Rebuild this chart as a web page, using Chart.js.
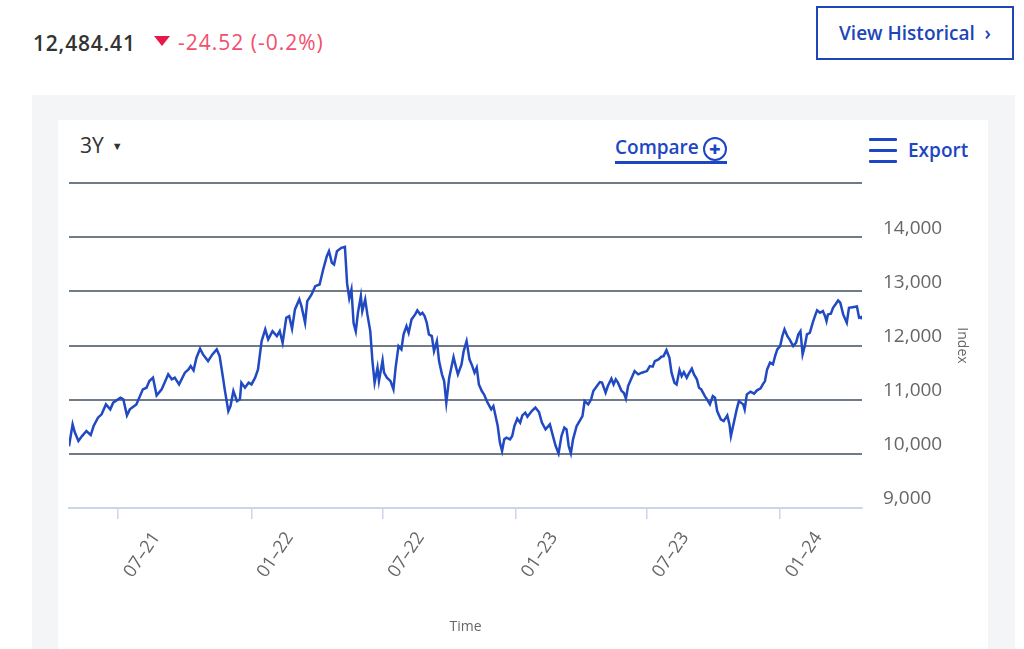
<!DOCTYPE html>
<html>
<head>
<meta charset="utf-8">
<script src="https://cdn.jsdelivr.net/npm/chart.js@4.4.1/dist/chart.umd.min.js"></script>
<style>
  html, body { margin: 0; padding: 0; background: #fff; }
  body { width: 1024px; height: 649px; position: relative; overflow: hidden; font-family: "Open Sans", sans-serif; }
  .abs { position: absolute; white-space: nowrap; }
  #last { left: 33px; top: 29px; font-size: 21px; font-weight: 600; letter-spacing: 0.8px; color: #333; }
  #tri { left: 154px; top: 36px; width: 0; height: 0; border-left: 8px solid transparent; border-right: 8px solid transparent; border-top: 10px solid #e8174a; }
  #chg { left: 178px; top: 28px; font-size: 21px; letter-spacing: 1px; color: #f0506e; }
  #hist { left: 816px; top: 6px; width: 194px; height: 50px; border: 2px solid #1d46b8; color: #1d46b8; font-size: 19px; font-weight: 600; line-height: 50px; text-align: center; }
  #panel { left: 32px; top: 95px; width: 983px; height: 554px; background: #f4f5f7; }
  #card { left: 58px; top: 120px; width: 930px; height: 529px; background: #fff; }
  #range { left: 80px; top: 131px; font-size: 21px; color: #333; }
  #range span { font-size: 11px; margin-left: 8px; vertical-align: 3px; }
  #compare { left: 615px; top: 134px; font-size: 19px; font-weight: 600; color: #1d46c4; border-bottom: 3px solid #1d46c4; padding-bottom: 0; line-height: 26px; }
  #compare b { display: inline-block; width: 20px; height: 20px; border: 2px solid #1d46c4; border-radius: 50%; text-align: center; line-height: 19px; font-size: 20px; margin-left: 4px; vertical-align: -2px; }
  #burger { left: 869px; top: 138px; width: 28px; }
  #burger i { display: block; height: 3px; background: #1d46c4; margin-bottom: 8px; border-radius: 1px; }
  #export { left: 908px; top: 137px; font-size: 19px; font-weight: 600; color: #1d46c4; }
  #wrap { left: 58px; top: 175px; width: 930px; height: 474px; }
</style>
</head>
<body>
<div class="abs" id="last">12,484.41</div>
<div class="abs" id="tri"></div>
<div class="abs" id="chg">-24.52 (-0.2%)</div>
<div class="abs" id="hist">View Historical &nbsp;›</div>
<div class="abs" id="panel"></div>
<div class="abs" id="card"></div>
<div class="abs" id="range">3Y<span>▼</span></div>
<div class="abs" id="compare">Compare<b>+</b></div>
<div class="abs" id="burger"><i></i><i></i><i></i></div>
<div class="abs" id="export">Export</div>
<div class="abs" id="wrap"><canvas id="chartIndex"></canvas></div>

<script>
// 3Y series, days counted from the first point
const startDate = '2021-04-24';
const dayOffsets = [
    0, 5, 8, 13, 18, 24, 30, 34, 40, 45, 51, 57, 61, 71, 75, 80, 84, 93, 102, 107,
    111, 116, 121, 128, 133, 137, 142, 146, 152, 160, 165, 168, 172, 176, 181, 185, 192, 198, 204, 208,
    213, 215, 220, 223, 227, 232, 236, 238, 243, 248, 252, 257, 261, 266, 271, 275, 281, 287, 291, 295,
    300, 304, 308, 312, 318, 321, 326, 329, 335, 340, 346, 351, 356, 359, 363, 366, 370, 376, 381, 384,
    387, 390, 393, 396, 399, 403, 405, 409, 412, 416, 419, 422, 426, 428, 433, 435, 439, 444, 448, 451,
    455, 459, 462, 466, 469, 473, 478, 481, 485, 488, 491, 494, 497, 501, 504, 508, 511, 515, 518, 521,
    525, 531, 534, 537, 542, 545, 549, 553, 556, 560, 563, 566, 570, 573, 578, 583, 586, 589, 592, 595,
    598, 601, 604, 609, 612, 615, 619, 623, 626, 630, 633, 639, 644, 649, 653, 658, 664, 667, 672, 676,
    680, 684, 687, 690, 693, 696, 701, 705, 709, 712, 717, 721, 724, 729, 733, 736, 741, 744, 749, 752,
    755, 758, 763, 766, 769, 772, 777, 781, 786, 791, 798, 802, 806, 809, 814, 818, 821, 825, 829, 832,
    836, 839, 843, 846, 849, 853, 856, 860, 863, 867, 870, 873, 878, 881, 885, 889, 892, 895, 900, 904,
    909, 912, 914, 917, 922, 925, 931, 933, 936, 941, 946, 950, 955, 958, 961, 964, 968, 972, 975, 978,
    982, 985, 988, 992, 995, 1000, 1004, 1007, 1010, 1013, 1016, 1019, 1023, 1027, 1030, 1033, 1037, 1041, 1044, 1046,
    1048, 1052, 1055, 1059, 1062, 1065, 1069, 1074, 1077, 1082, 1088, 1091, 1094, 1095
];
const closes = [
    10140, 10544, 10397, 10236, 10328, 10421, 10347, 10513, 10668, 10729, 10913, 10821, 10945, 11037, 11006, 10710, 10821, 10913, 11190, 11221,
    11343, 11406, 11079, 11190, 11343, 11467, 11375, 11406, 11282, 11498, 11559, 11620, 11541, 11775, 11941, 11836, 11712, 11836, 11928, 11804,
    11375, 11190, 10790, 10882, 11159, 10974, 11006, 11314, 11221, 11314, 11282, 11406, 11559, 12081, 12297, 12113, 12266, 12173, 12266, 12052,
    12513, 12542, 12310, 12666, 12851, 12727, 12421, 12819, 12943, 13096, 13127, 13404, 13649, 13742, 13528, 13496, 13742, 13804, 13823, 13146,
    12869, 13035, 12408, 12260, 12605, 12911, 12635, 12851, 12574, 12266, 11712, 11314, 11590, 11343, 11725, 11498, 11406, 11343, 11190, 11590,
    11989, 11928, 12205, 12358, 12236, 12482, 12574, 12648, 12574, 12605, 12542, 12421, 12205, 12173, 11897, 12081, 11712, 11467, 11343, 10945,
    11406, 11786, 11620, 11467, 11651, 11897, 12081, 11744, 11651, 11498, 11590, 11282, 11159, 11098, 10945, 10821, 10882, 10697, 10513, 10207,
    10052, 10268, 10299, 10268, 10328, 10513, 10649, 10576, 10710, 10760, 10686, 10790, 10852, 10771, 10576, 10452, 10544, 10391, 10144, 10009,
    10328, 10483, 10452, 10144, 10009, 10268, 10513, 10605, 10697, 10974, 10913, 11006, 11159, 11251, 11325, 11314, 11129, 11251, 11387, 11282,
    11375, 11314, 11159, 11129, 11018, 11251, 11406, 11528, 11467, 11498, 11528, 11620, 11609, 11712, 11744, 11793, 11804, 11915, 11775, 11498,
    11314, 11282, 11546, 11435, 11509, 11406, 11485, 11572, 11467, 11375, 11221, 11190, 11066, 11006, 10913, 11066, 11037, 10790, 10637, 10605,
    10710, 10544, 10328, 10513, 10821, 10974, 10913, 10821, 11098, 11148, 11111, 11172, 11208, 11282, 11343, 11559, 11683, 11651, 11804, 11928,
    11989, 12173, 12297, 12173, 12113, 11989, 12052, 12205, 12266, 11836, 11989, 12205, 12236, 12421, 12542, 12648, 12605, 12635, 12542, 12450,
    12574, 12587, 12697, 12771, 12832, 12790, 12574, 12421, 12697, 12708, 12721, 12513, 12524, 12484.41
];
const endDate = '2024-04-23';
const tickDates = ['2021-07-01', '2022-01-01', '2022-07-01', '2023-01-01', '2023-07-01', '2024-01-01'];
const tickLabels = ['07–21', '01–22', '07–22', '01–23', '07–23', '01–24'];
const yTicks = [9000, 10000, 11000, 12000, 13000, 14000, 15000];

const DAY = 86400000;
const toDay = d => Math.round((Date.parse(d) - Date.parse(startDate)) / DAY);
const tickDays = tickDates.map(toDay);

const points = dayOffsets.map((d, i) => ({ x: d, y: closes[i] }));

const canvas = document.getElementById("chartIndex");

if (canvas) {
    new Chart(canvas, {
        type: "line",
        data: {
            datasets: [{
                label: "Index",
                data: points,
                borderColor: "#2149c1",
                borderWidth: 2.5,
                pointRadius: 0,
                tension: 0,
                fill: false
            }]
        },
        options: {
            responsive: true,
            maintainAspectRatio: false,
            animation: false,
            layout: { padding: { left: 11, top: 8, right: 0, bottom: 0 } },
            plugins: { legend: { display: false }, tooltip: { enabled: false } },
            scales: {
                x: {
                    type: "linear",
                    min: 0,
                    max: toDay(endDate),
                    afterBuildTicks: s => { s.ticks = tickDays.map(v => ({ value: v })); },
                    afterFit: s => { s.height = 141; s.paddingLeft = 0; s.paddingRight = 0; },
                    border: { display: true, color: "#ccd6eb", width: 2 },
                    grid: { drawOnChartArea: false, drawTicks: true, tickLength: 11, color: "#ccd6eb", lineWidth: 1.5 },
                    ticks: {
                        autoSkip: false,
                        minRotation: 56,
                        maxRotation: 56,
                        padding: 9,
                        labelOffset: 38,
                        color: "#666",
                        font: { family: "Open Sans", size: 18 },
                        callback: v => tickLabels[tickDays.indexOf(v)] ?? ""
                    },
                    title: {
                        display: true,
                        text: "Time",
                        color: "#666",
                        font: { family: "Open Sans", size: 14 },
                        padding: { top: 4, bottom: 14 }
                    }
                },
                y: {
                    type: "linear",
                    position: "right",
                    min: 9000,
                    max: 15000,
                    afterBuildTicks: s => { s.ticks = yTicks.map(v => ({ value: v })); },
                    afterFit: s => { s.width = 126; s.paddingTop = 0; s.paddingBottom = 0; },
                    border: { display: false },
                    grid: {
                        drawTicks: false,
                        lineWidth: 2,
                        color: c => (c.tick && c.tick.value === 9000) ? "rgba(0,0,0,0)" : "#6f7c88"
                    },
                    ticks: {
                        padding: 21,
                        labelOffset: -9,
                        color: "#666",
                        font: { family: "Open Sans", size: 19 },
                        callback: v => v === 15000 ? "" : v.toLocaleString("en-US")
                    },
                    title: {
                        display: true,
                        text: "Index",
                        color: "#666",
                        font: { family: "Open Sans", size: 14 },
                        padding: { top: 18, bottom: 18 }
                    }
                }
            }
        }
    });
}
</script>
</body>
</html>
